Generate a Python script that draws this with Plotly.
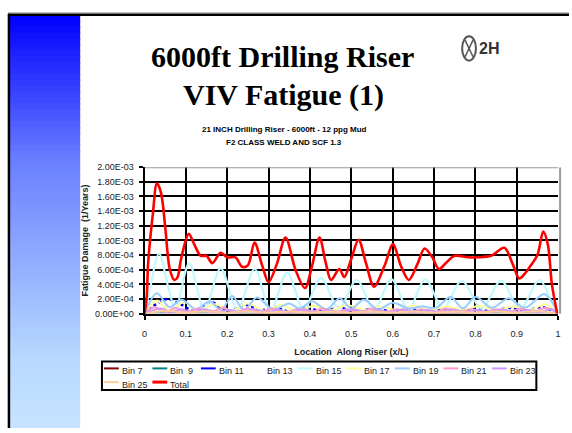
import plotly.graph_objects as go

# ---------------- data ----------------
x_total = [0, 0.005, 0.009, 0.02, 0.03, 0.04, 0.05, 0.061, 0.072, 0.08, 0.0885, 0.107, 0.12, 0.136, 0.15, 0.164,
           0.184, 0.2, 0.22, 0.236, 0.25, 0.266, 0.285, 0.3, 0.32, 0.341, 0.365, 0.388, 0.405, 0.423, 0.438,
           0.451, 0.471, 0.483, 0.5, 0.5175, 0.535, 0.555, 0.58, 0.601, 0.62, 0.639, 0.66, 0.677, 0.695, 0.712,
           0.73, 0.75, 0.782, 0.806, 0.838, 0.87, 0.89, 0.906, 0.92, 0.934, 0.95, 0.964, 0.975, 0.985, 0.998]
v_total = [0, 2.0e-4, 7.1e-4, 13.5e-4, 17.8e-4, 16.5e-4, 11.9e-4, 6.1e-4, 4.6e-4, 5.0e-4, 7.5e-4, 10.9e-4, 9.5e-4,
           7.9e-4, 7.9e-4, 6.9e-4, 8.3e-4, 7.7e-4, 7.7e-4, 6.4e-4, 6.6e-4, 9.7e-4, 6.5e-4, 4.3e-4, 6.8e-4, 10.4e-4,
           6.0e-4, 3.5e-4, 6.5e-4, 10.4e-4, 7.0e-4, 4.6e-4, 6.1e-4, 5.0e-4, 7.5e-4, 10.1e-4, 7.0e-4, 3.7e-4, 6.5e-4,
           9.5e-4, 6.5e-4, 4.6e-4, 6.8e-4, 8.9e-4, 7.8e-4, 6.1e-4, 7.0e-4, 7.9e-4, 7.7e-4, 7.7e-4, 7.9e-4, 9.0e-4,
           6.8e-4, 4.8e-4, 5.5e-4, 6.6e-4, 8.0e-4, 11.2e-4, 9.5e-4, 4.0e-4, 0]

x_bin15 = [0, 0.012, 0.035, 0.058, 0.075, 0.108, 0.145, 0.184, 0.225, 0.266, 0.305, 0.345, 0.385, 0.427, 0.47,
           0.513, 0.555, 0.597, 0.638, 0.679, 0.722, 0.767, 0.815, 0.862, 0.908, 0.955, 0.985, 1.0]
v_bin15 = [0, 3.0e-4, 8.2e-4, 3.5e-4, 0.6e-4, 6.9e-4, 0.5e-4, 6.2e-4, 0.5e-4, 6.1e-4, 0.5e-4, 5.6e-4, 0.6e-4,
           4.9e-4, 0.7e-4, 4.6e-4, 0.6e-4, 4.7e-4, 0.6e-4, 4.7e-4, 0.7e-4, 4.5e-4, 0.7e-4, 4.5e-4, 0.7e-4, 4.6e-4,
           1.5e-4, 0]

x_bin19 = [0, 0.03, 0.06, 0.09, 0.125, 0.158, 0.185, 0.212, 0.24, 0.272, 0.31, 0.35, 0.375, 0.405, 0.44, 0.472,
           0.5, 0.53, 0.565, 0.6, 0.64, 0.67, 0.705, 0.74, 0.77, 0.8, 0.84, 0.88, 0.92, 0.966, 0.99, 1.0]
v_bin19 = [0, 2.8e-4, 0.9e-4, 1.9e-4, 0.6e-4, 1.7e-4, 0.5e-4, 2.4e-4, 0.5e-4, 2.2e-4, 0.6e-4, 1.4e-4, 0.7e-4,
           1.7e-4, 0.6e-4, 2.1e-4, 0.7e-4, 1.9e-4, 0.6e-4, 1.5e-4, 0.7e-4, 1.0e-4, 0.8e-4, 2.3e-4, 0.7e-4, 2.3e-4,
           0.8e-4, 2.1e-4, 0.8e-4, 2.7e-4, 1.2e-4, 0]

x_bin11 = [0, 0.02, 0.055, 0.09, 0.12, 0.16, 0.2, 0.25, 0.28, 0.31, 0.35, 0.39, 0.43, 0.47, 0.51, 0.55, 0.6,
           0.64, 0.68, 0.72, 0.76, 0.8, 0.84, 0.88, 0.92, 0.96, 1.0]
v_bin11 = [0, 1.0e-4, 2.0e-4, 1.2e-4, 0.4e-4, 1.6e-4, 0.4e-4, 1.2e-4, 0.4e-4, 1.0e-4, 0.3e-4, 0.9e-4, 0.3e-4,
           0.8e-4, 0.3e-4, 0.7e-4, 0.3e-4, 0.6e-4, 0.3e-4, 0.6e-4, 0.3e-4, 0.7e-4, 0.3e-4, 0.8e-4, 0.4e-4, 0.9e-4, 0]

x_bin17 = [0, 0.03, 0.06, 0.095, 0.13, 0.17, 0.21, 0.25, 0.29, 0.33, 0.37, 0.41, 0.45, 0.49, 0.53, 0.57, 0.61,
           0.65, 0.69, 0.73, 0.77, 0.81, 0.85, 0.89, 0.93, 0.97, 1.0]
v_bin17 = [0, 1.8e-4, 0.4e-4, 1.6e-4, 0.4e-4, 1.3e-4, 0.4e-4, 1.4e-4, 0.4e-4, 1.2e-4, 0.4e-4, 1.1e-4, 0.5e-4,
           1.2e-4, 0.5e-4, 1.0e-4, 0.5e-4, 1.1e-4, 0.5e-4, 1.0e-4, 0.5e-4, 1.1e-4, 0.5e-4, 1.0e-4, 0.5e-4, 1.3e-4, 0]

x_bin21 = [0, 0.025, 0.05, 0.075, 0.1, 0.13, 0.16, 0.19, 0.22, 0.25, 0.28, 0.31, 0.34, 0.37, 0.4, 0.43, 0.46,
           0.49, 0.52, 0.55, 0.58, 0.61, 0.64, 0.67, 0.7, 0.73, 0.76, 0.79, 0.82, 0.85, 0.88, 0.91, 0.94, 0.97, 1.0]
v_bin21 = [0, 0.9e-4, 0.2e-4, 0.8e-4, 0.2e-4, 0.7e-4, 0.2e-4, 0.8e-4, 0.2e-4, 0.7e-4, 0.2e-4, 0.7e-4, 0.2e-4,
           0.6e-4, 0.2e-4, 0.7e-4, 0.2e-4, 0.6e-4, 0.2e-4, 0.7e-4, 0.2e-4, 0.6e-4, 0.2e-4, 0.6e-4, 0.2e-4, 0.7e-4,
           0.2e-4, 0.6e-4, 0.2e-4, 0.6e-4, 0.2e-4, 0.7e-4, 0.2e-4, 0.8e-4, 0]

x_bin23 = [0, 0.04, 0.065, 0.09, 0.115, 0.145, 0.175, 0.205, 0.235, 0.265, 0.295, 0.325, 0.355, 0.385, 0.415,
           0.445, 0.475, 0.505, 0.535, 0.565, 0.595, 0.625, 0.655, 0.685, 0.715, 0.745, 0.775, 0.805, 0.835,
           0.865, 0.895, 0.925, 0.955, 0.985, 1.0]
v_bin23 = [0, 0.7e-4, 0.2e-4, 0.6e-4, 0.2e-4, 0.6e-4, 0.2e-4, 0.5e-4, 0.2e-4, 0.6e-4, 0.2e-4, 0.5e-4, 0.2e-4,
           0.6e-4, 0.2e-4, 0.5e-4, 0.2e-4, 0.6e-4, 0.2e-4, 0.5e-4, 0.2e-4, 0.6e-4, 0.2e-4, 0.5e-4, 0.2e-4, 0.6e-4,
           0.2e-4, 0.5e-4, 0.2e-4, 0.6e-4, 0.2e-4, 0.5e-4, 0.2e-4, 0.6e-4, 0]

x_bin25 = [0, 0.05, 0.1, 0.15, 0.2, 0.25, 0.3, 0.35, 0.4, 0.45, 0.5, 0.55, 0.6, 0.65, 0.7, 0.75, 0.8, 0.85, 0.9,
           0.95, 1.0]
v_bin25 = [0, 0.4e-4, 0.15e-4, 0.35e-4, 0.15e-4, 0.35e-4, 0.15e-4, 0.3e-4, 0.15e-4, 0.3e-4, 0.15e-4, 0.3e-4,
           0.15e-4, 0.3e-4, 0.15e-4, 0.3e-4, 0.15e-4, 0.3e-4, 0.15e-4, 0.35e-4, 0]

x_bin9 = [0, 0.1, 0.2, 0.3, 0.4, 0.5, 0.6, 0.7, 0.8, 0.9, 1.0]
v_bin9 = [0, 0.15e-4, 0.12e-4, 0.15e-4, 0.12e-4, 0.15e-4, 0.12e-4, 0.15e-4, 0.12e-4, 0.15e-4, 0]

x_bin7 = [0, 0.25, 0.5, 0.75, 1.0]
v_bin7 = [0, 0.05e-4, 0.05e-4, 0.05e-4, 0]

x_bin13 = [0, 0.25, 0.5, 0.75, 1.0]
v_bin13 = [0, 0.08e-4, 0.08e-4, 0.08e-4, 0]

series_names = ["Bin 7", "Bin  9", "Bin 11", "Bin 13", "Bin 15", "Bin 17", "Bin 19", "Bin 21", "Bin 23",
                "Bin 25", "Total"]
series_colors = ["#800000", "#008080", "#0000FF", "#FFFFFF", "#BFF8FF", "#FFFF99", "#99CCFF", "#FF99CC",
                 "#CC99FF", "#FFCC99", "#FF0000"]
series_x = [x_bin7, x_bin9, x_bin11, x_bin13, x_bin15, x_bin17, x_bin19, x_bin21, x_bin23, x_bin25, x_total]
series_y = [v_bin7, v_bin9, v_bin11, v_bin13, v_bin15, v_bin17, v_bin19, v_bin21, v_bin23, v_bin25, v_total]

y_tickvals = [0, 2e-4, 4e-4, 6e-4, 8e-4, 1e-3, 1.2e-3, 1.4e-3, 1.6e-3, 1.8e-3, 2e-3]
y_ticktext = ["0.00E+00", "2.00E-04", "4.00E-04", "6.00E-04", "8.00E-04", "1.00E-03", "1.20E-03", "1.40E-03",
              "1.60E-03", "1.80E-03", "2.00E-03"]
x_tickvals = [0, 0.1, 0.2, 0.3, 0.4, 0.5, 0.6, 0.7, 0.8, 0.9, 1.0]
x_ticktext = ["0", "0.1", "0.2", "0.3", "0.4", "0.5", "0.6", "0.7", "0.8", "0.9", "1"]

# ---------------- figure ----------------
W, H = 572, 433
def px(x):
    return x / W
def py(y):
    return 1 - y / H

fig = go.Figure()
widths = [1.5, 1.5, 2.5, 1.5, 2.2, 2, 2, 2, 2, 2, 2.6]
dashes = ["solid", "solid", "dot", "solid", "solid", "solid", "solid", "solid", "solid", "solid", "solid"]
for i in range(len(series_names)):
    fig.add_trace(go.Scatter(
        x=series_x[i], y=series_y[i], mode="lines", name=series_names[i],
        line=dict(color=series_colors[i], width=widths[i], dash=dashes[i], shape="spline", smoothing=0.9),
        showlegend=False, hoverinfo="skip"))

shapes = []
# left gradient bar (piecewise gradient stops, overlapping bands to avoid seams)
stops = [(10, 0, 0), (160, 106, 128), (360, 184, 216), (433, 200, 228)]
def grad(y):
    for (ya, ra, ga), (yb, rb, gb) in zip(stops[:-1], stops[1:]):
        if ya <= y <= yb:
            t = (y - ya) / (yb - ya)
            return int(ra + (rb - ra) * t), int(ga + (gb - ga) * t)
    return stops[-1][1], stops[-1][2]
N = 70
top, bot = 10, 433
band = (bot - top) / N
for k in range(N):
    y0 = top + band * k
    y1 = min(bot, y0 + band + 1.5)
    r, g = grad(y0 + band / 2)
    shapes.append(dict(type="rect", xref="paper", yref="paper", x0=px(7), x1=px(78), y0=py(y1), y1=py(y0),
                       fillcolor=f"rgb({r},{g},255)", line=dict(width=0), layer="below"))
# frame lines
shapes.append(dict(type="line", xref="paper", yref="paper", x0=px(5), x1=1, y0=py(8), y1=py(8),
                   line=dict(color="#AAAAAA", width=1)))
shapes.append(dict(type="line", xref="paper", yref="paper", x0=px(5), x1=1, y0=py(10), y1=py(10),
                   line=dict(color="#000000", width=2.5)))
shapes.append(dict(type="line", xref="paper", yref="paper", x0=px(6), x1=px(6), y0=py(9), y1=0,
                   line=dict(color="#000000", width=2.5)))
# plot borders (top gray, right gray)
shapes.append(dict(type="line", xref="x", yref="y", x0=0, x1=1, y0=2e-3, y1=2e-3,
                   line=dict(color="#999999", width=2)))
shapes.append(dict(type="line", xref="paper", yref="y", x0=px(563), x1=px(563), y0=0, y1=2e-3,
                   line=dict(color="#999999", width=2)))

annotations = []
# legend box
lx0, lx1, ly0, ly1 = 100, 539, 365, 394
shapes.append(dict(type="rect", xref="paper", yref="paper", x0=px(lx0), x1=px(lx1), y0=py(ly1), y1=py(ly0),
                   line=dict(color="black", width=2), fillcolor="white"))
for i, (nm, col) in enumerate(zip(series_names, series_colors)):
    row = 0 if i < 9 else 1
    col_i = i if i < 9 else i - 9
    x0 = 102 + 49 * col_i
    yy = 373 + 14 * row
    shapes.append(dict(type="line", xref="paper", yref="paper", x0=px(x0), x1=px(x0 + 15), y0=py(yy - 1),
                       y1=py(yy - 1), line=dict(color=col, width=3 if nm == "Total" else 2)))
    annotations.append(dict(x=px(x0 + 16), y=py(yy + 2), xref="paper", yref="paper", text=nm, showarrow=False,
                            xanchor="left", yanchor="middle",
                            font=dict(family="Liberation Sans", size=9, color="#222222")))

def ann(x, y, text, size, family, color="black", xanchor="center"):
    annotations.append(dict(x=px(x), y=py(y), xref="paper", yref="paper", text=text, showarrow=False,
                            xanchor=xanchor, yanchor="middle",
                            font=dict(family=family, size=size, color=color)))

# titles
ann(282, 53, "<b>6000ft Drilling Riser</b>", 30, "Liberation Serif")
ann(283, 92, "<b>VIV Fatigue (1)</b>", 30, "Liberation Serif")
ann(284, 127, "<b>21 INCH Drilling Riser - 6000ft - 12 ppg Mud</b>", 8, "Liberation Sans")
ann(284, 141, "<b>F2 CLASS WELD AND SCF 1.3</b>", 8, "Liberation Sans")
# logo
shapes.append(dict(type="circle", xref="paper", yref="paper", x0=px(464), x1=px(478), y0=py(57), y1=py(32),
                   line=dict(color="#555555", width=2)))
shapes.append(dict(type="line", xref="paper", yref="paper", x0=px(467), x1=px(475), y0=py(36), y1=py(53),
                   line=dict(color="#555555", width=1.5)))
shapes.append(dict(type="line", xref="paper", yref="paper", x0=px(475), x1=px(467), y0=py(36), y1=py(53),
                   line=dict(color="#555555", width=1.5)))
ann(479, 45, "<b>2H</b>", 16, "Liberation Sans", "#333333", "left")

fig.update_layout(
    width=W, height=H, margin=dict(l=0, r=0, t=0, b=0),
    paper_bgcolor="white", plot_bgcolor="white",
    shapes=shapes, annotations=annotations,
    xaxis=dict(domain=[px(143), px(561)], range=[0, 1], tickvals=x_tickvals, ticktext=x_ticktext,
               showgrid=True, gridcolor="black", gridwidth=2, showline=True, linecolor="black", linewidth=2,
               ticks="outside", ticklen=4, tickcolor="black", tickwidth=1.5, zeroline=False,
               ticklabelstandoff=6,
               tickfont=dict(family="Liberation Sans", size=9, color="#222222"),
               title=dict(text="<b>Location  Along Riser (x/L)</b>", standoff=11,
                          font=dict(family="Liberation Sans", size=9, color="#222222"))),
    yaxis=dict(domain=[py(316), py(166)], range=[0, 2e-3], tickvals=y_tickvals, ticktext=y_ticktext,
               showgrid=True, gridcolor="black", gridwidth=2, showline=True, linecolor="black", linewidth=2,
               ticks="outside", ticklen=4, tickcolor="black", tickwidth=1.5, zeroline=False,
               ticklabelstandoff=3,
               tickfont=dict(family="Liberation Sans", size=9, color="#222222"),
               title=dict(text="<b>Fatigue Damage  (1/Years)</b>", standoff=5,
                          font=dict(family="Liberation Sans", size=9, color="#222222"))),
    showlegend=False,
)

fig.write_html("out.html")
